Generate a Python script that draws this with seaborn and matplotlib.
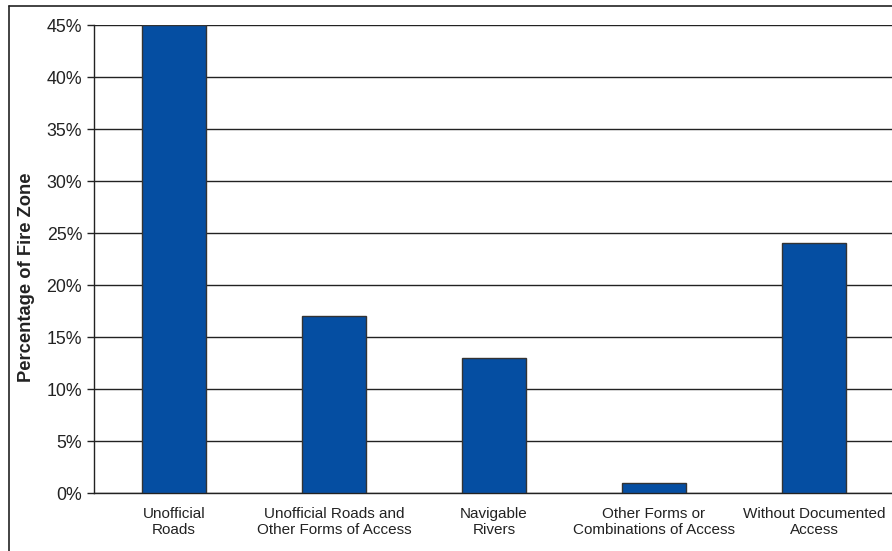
import matplotlib
matplotlib.use("Agg")
import matplotlib.pyplot as plt
from matplotlib.lines import Line2D
from matplotlib.ticker import PercentFormatter
import seaborn as sns
import pandas as pd

# Chart data
categories = [
    "Unofficial\nRoads",
    "Unofficial Roads and\nOther Forms of Access",
    "Navigable\nRivers",
    "Other Forms or\nCombinations of Access",
    "Without Documented\nAccess",
]
percentages = [45, 17, 13, 1, 24]
y_ticks = [0, 5, 10, 15, 20, 25, 30, 35, 40, 45]

df = pd.DataFrame({"category": categories, "pct": percentages})

sns.set_style("white")
plt.rcParams["font.family"] = ["Liberation Sans", "DejaVu Sans"]

fig = plt.figure(figsize=(8.92, 5.51), dpi=100)
ax = fig.add_axes([94 / 892, 58 / 551, 800 / 892, 468 / 551])

# Outer frame of the figure (left and top edges visible)
fig.add_artist(Line2D([9 / 892, 9 / 892], [0, 1 - 6 / 551],
                      transform=fig.transFigure, color="#222222", lw=1.2))
fig.add_artist(Line2D([9 / 892, 1], [1 - 6 / 551, 1 - 6 / 551],
                      transform=fig.transFigure, color="#222222", lw=1.2))

sns.barplot(
    data=df,
    x="category",
    y="pct",
    color="#054EA2",
    width=0.4,
    edgecolor="#333333",
    linewidth=1,
    saturation=1,
    ax=ax,
    zorder=3,
)

ax.set_xlim(-0.5, len(categories) - 0.5)
ax.set_ylim(0, 45)
ax.set_yticks(y_ticks)
ax.yaxis.set_major_formatter(PercentFormatter(decimals=0))

# Gridlines
ax.grid(axis="y", color="#222222", lw=1, zorder=0)
ax.set_axisbelow(True)

# Category labels centered, ticks at the slot boundaries
ax.set_xticks(range(len(categories)))
ax.set_xticklabels(categories, fontsize=11, color="#222222", linespacing=1.15)
ax.set_xticks([i - 0.5 for i in range(len(categories) + 1)], minor=True)
ax.tick_params(axis="x", which="major", length=0, pad=10)
ax.tick_params(axis="x", which="minor", length=4, width=1, color="#222222")
ax.tick_params(axis="y", length=5, width=1, color="#222222",
               labelsize=12.8, labelcolor="#222222", left=True)

ax.set_xlabel("")
ax.set_ylabel("Percentage of Fire Zone", fontsize=13.2, fontweight="bold",
              color="#222222")
ax.yaxis.set_label_coords(-0.074, 0.4615)

for side in ["top", "right"]:
    ax.spines[side].set_visible(False)
for side in ["left", "bottom"]:
    ax.spines[side].set_color("#222222")
    ax.spines[side].set_linewidth(1)

fig.savefig("out.png", dpi=100)
plt.close(fig)
